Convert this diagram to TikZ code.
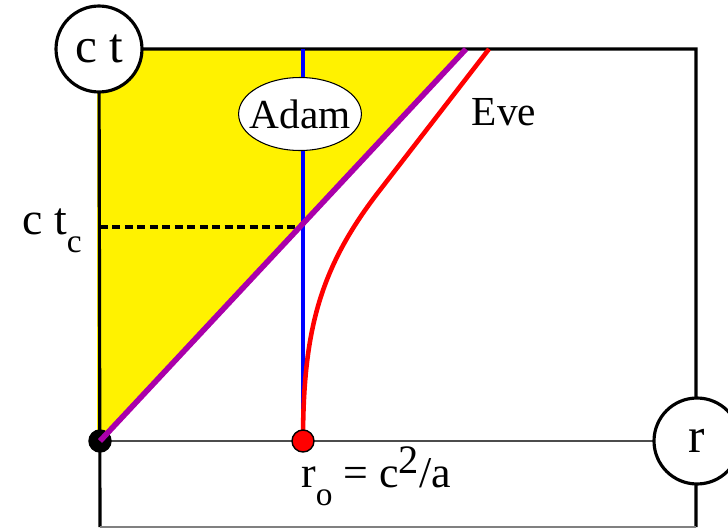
\documentclass[tikz,border=0pt]{standalone}
\usepackage{fontspec}
\setmainfont{Liberation Serif}
\usetikzlibrary{shapes.geometric}
\definecolor{conecolor}{RGB}{170,0,170}
\newcommand{\lowtext}[1]{\raisebox{-0.4em}{\fontsize{19}{20}\selectfont #1}}
\newcommand{\hightext}[1]{\raisebox{0.32em}{\fontsize{23}{24}\selectfont #1}}

\begin{document}
\begin{tikzpicture}[x=0.02cm, y=0.02cm, font=\fontsize{23.5}{28}\selectfont,
  axislabel/.style={circle, draw, fill=white, line width=1.8pt, minimum size=1.72cm, inner sep=0pt, font=\fontsize{28}{30}\selectfont},
  dot/.style={circle, draw, line width=0.8pt, minimum size=0.44cm, inner sep=0pt}]
 \useasboundingbox (0,0) rectangle (728,529);

 % Positions
 \coordinate (o) at (100,88);
 \coordinate (ro) at (303,88);
 \coordinate (rpos) at (697,88);
 \coordinate (ctpos) at (99,480);
 \coordinate (conetop) at (466,480);
 \coordinate (adamtop) at (303,480);
 \coordinate (evetop) at (489,480);
 \coordinate (tc) at (100,302);
 \coordinate (cross) at (303,302);

 % Region inside the light cone
 \fill[yellow] (97,88) -- (97,480) -- (conetop) -- cycle;

 % Frame and axis
 \draw[line width=1.8pt] (100,2) -- (ctpos) -- (696,480) -- (696,2);
 \draw[gray, line width=1pt] (100,2) -- (696,2);
 \draw[black!70, line width=0.8pt] (o) -- (rpos);

 % Time t_c
 \draw[dash pattern=on 4.5pt off 2.6pt, line width=1.9pt] (tc) -- (cross);
 \node[anchor=east, inner sep=0pt, font=\fontsize{26}{28}\selectfont] (ctc) at (82,298) {c t\lowtext{c}};

 % World lines
 \draw[blue, line width=2.8pt] (ro) -- (adamtop);
 \draw[red, line width=2.6pt] (ro) .. controls (303,199) and (320,262) .. (380,339) -- (evetop);
 \node[dot, fill=black] (origin) at (o) {};
 \draw[conecolor, line width=3.2pt] (o) -- (conetop);
 \node[dot, fill=red] (start) at (ro) {};

 % Names
 \node[ellipse, draw, fill=white, line width=0.6pt, minimum width=2.42cm, minimum height=1.46cm, inner xsep=-4pt, inner ysep=0pt] (adam) at (300,415) {Adam};
 \node (eve) at (504,417) {Eve};

 % Axis labels
 \node[axislabel] (ct) at (ctpos) {c t};
 \node[axislabel] (r) at (rpos) {r};
 \node[font=\fontsize{25}{28}\selectfont] (rolabel) at (376,53) {r\lowtext{o} = c\hightext{2}/a};
\end{tikzpicture}
\end{document}
